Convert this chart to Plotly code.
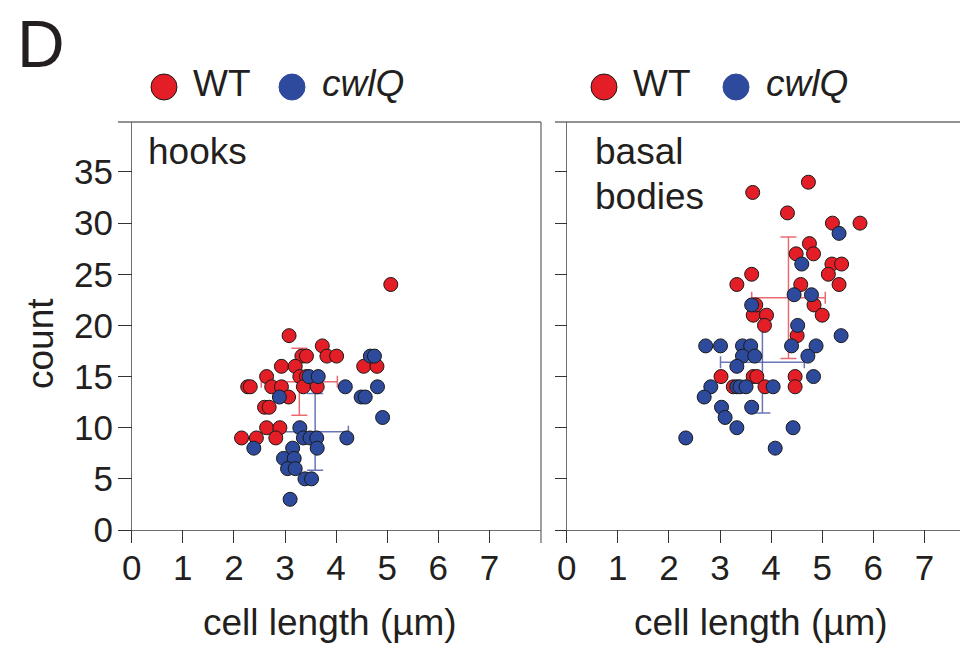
import plotly.graph_objects as go

# ---------------- data ----------------
hooks_wt_x = [5.07, 3.08, 3.73, 3.33, 3.42, 3.82, 4.01, 2.93, 3.20, 4.54, 4.80, 2.64, 3.29, 3.42,
              2.27, 2.32, 2.74, 2.93, 3.36, 3.63, 3.07, 2.60, 2.69, 2.64, 2.90, 2.15, 2.44, 2.82]
hooks_wt_y = [24, 19, 18, 17, 17, 17, 17, 16, 16, 16, 16, 15, 15, 15,
              14, 14, 14, 14, 14, 14, 13, 12, 12, 10, 10, 9, 9, 9]
hooks_cwlq_x = [4.67, 4.75, 3.47, 3.65, 4.18, 4.81, 2.89, 4.49, 4.57, 4.91, 3.29, 3.36, 3.49,
                3.62, 4.21, 2.39, 3.15, 3.63, 2.97, 3.18, 3.05, 3.20, 3.39, 3.52, 3.10]
hooks_cwlq_y = [17, 17, 15, 15, 14, 14, 13, 13, 13, 11, 10, 9, 9,
                9, 9, 8, 8, 8, 7, 7, 6, 6, 5, 5, 3]

bb_wt_x = [4.73, 3.64, 4.32, 5.20, 5.74, 4.75, 4.49, 4.83, 5.19, 5.38, 5.12, 3.62, 3.33, 5.33,
           4.58, 4.84, 5.00, 3.65, 3.91, 3.87, 3.70, 4.51, 4.47, 4.47, 3.02, 3.65, 3.72, 3.26, 3.88]
bb_wt_y = [34, 33, 31, 30, 30, 28, 27, 27, 26, 26, 25, 25, 24, 24,
           24, 22, 21, 21, 21, 20, 22, 19, 15, 14, 15, 15, 15, 14, 14]
bb_cwlq_x = [5.33, 4.60, 4.45, 4.79, 3.62, 4.52, 5.37, 2.72, 3.01, 3.44, 3.60, 4.40, 4.88, 3.44,
             3.68, 4.72, 3.33, 4.83, 2.82, 3.33, 3.39, 3.51, 4.04, 2.69, 3.03, 3.62, 3.10, 3.33,
             4.43, 2.33, 4.08]
bb_cwlq_y = [29, 26, 23, 23, 22, 20, 19, 18, 18, 18, 18, 18, 18, 17,
             17, 17, 16, 15, 14, 14, 14, 14, 14, 13, 12, 12, 11, 10,
             10, 9, 8]

# mean +/- SD summaries (hooks, basal bodies)
wt_mean_x = [3.28, 4.34]
wt_mean_y = [14.5, 22.7]
wt_sd_x = [0.745, 0.72]
wt_sd_y = [3.27, 5.94]
cwlq_mean_x = [3.59, 3.83]
cwlq_mean_y = [9.6, 16.4]
cwlq_sd_x = [0.65, 0.82]
cwlq_sd_y = [3.75, 4.95]

x_ticks = [0, 1, 2, 3, 4, 5, 6, 7]
y_ticks = [0, 5, 10, 15, 20, 25, 30, 35]

# ---------------- style ----------------
W, H = 968, 649
OX, OY = 8, 8   # page body margin offset
RED = "#E31E26"
BLUE = "#2E4A9C"
RED_ERR = "rgba(230,80,90,0.85)"
BLUE_ERR = "rgba(80,95,170,0.85)"
FONT = "Liberation Sans, Arial, sans-serif"
TXT = "#231F20"
AX = "#6E6E6E"
FS = 37


def px(x):
    return (x - OX) / W


def py(y):
    return 1 - (y - OY) / H


fig = go.Figure()

panels = [("x", "y", hooks_wt_x, hooks_wt_y, hooks_cwlq_x, hooks_cwlq_y, 0),
          ("x2", "y2", bb_wt_x, bb_wt_y, bb_cwlq_x, bb_cwlq_y, 1)]

for xa, ya, wx, wy, cx, cy, i in panels:
    # error bars (mean +/- SD)
    fig.add_trace(go.Scatter(
        x=[wt_mean_x[i]], y=[wt_mean_y[i]], mode="markers", xaxis=xa, yaxis=ya,
        marker=dict(size=1, color="rgba(0,0,0,0)"), showlegend=False, hoverinfo="skip",
        error_x=dict(type="data", array=[wt_sd_x[i]], color=RED_ERR, thickness=1.5, width=6),
        error_y=dict(type="data", array=[wt_sd_y[i]], color=RED_ERR, thickness=1.5, width=8)))
    fig.add_trace(go.Scatter(
        x=[cwlq_mean_x[i]], y=[cwlq_mean_y[i]], mode="markers", xaxis=xa, yaxis=ya,
        marker=dict(size=1, color="rgba(0,0,0,0)"), showlegend=False, hoverinfo="skip",
        error_x=dict(type="data", array=[cwlq_sd_x[i]], color=BLUE_ERR, thickness=1.5, width=6),
        error_y=dict(type="data", array=[cwlq_sd_y[i]], color=BLUE_ERR, thickness=1.5, width=8)))
    fig.add_trace(go.Scatter(
        x=wx, y=wy, mode="markers", xaxis=xa, yaxis=ya, name="WT", showlegend=False,
        marker=dict(size=14, color=RED, line=dict(color="#1a1a1a", width=1))))
    fig.add_trace(go.Scatter(
        x=cx, y=cy, mode="markers", xaxis=xa, yaxis=ya, name="cwlQ", showlegend=False,
        marker=dict(size=14, color=BLUE, line=dict(color="#1a1a1a", width=1))))

# axis geometry (reference pixel positions)
x0_px_left = 131.7
x0_px_right = 566.7
ppu_x = 51.1
y0_px = 530.0
ppu_y = 10.229
top_px, bot_px = 122.0, 543.0
right_edge = W + OX  # figure's right edge in page pixels

yrange = [(y0_px - bot_px) / ppu_y, (y0_px - top_px) / ppu_y]
ydom = [py(bot_px), py(top_px)]

common_x = dict(tickvals=x_ticks, ticks="inside", ticklen=13, tickwidth=1.3, tickcolor="#333",
                showgrid=False, showline=False, zeroline=True, zerolinecolor=AX,
                zerolinewidth=1.3, tickfont=dict(family=FONT, size=35, color=TXT),
                fixedrange=True, automargin=False, ticklabelstandoff=1)
common_y = dict(tickvals=y_ticks, ticks="inside", ticklen=14, tickwidth=1.3, tickcolor="#333",
                showgrid=False, showline=False, zeroline=True, zerolinecolor=AX,
                zerolinewidth=1.3, tickfont=dict(family=FONT, size=35, color=TXT),
                range=yrange, domain=ydom, fixedrange=True, automargin=False,
                ticklabelstandoff=4)

fig.update_layout(
    width=W, height=H, margin=dict(l=0, r=0, t=0, b=0, autoexpand=False),
    paper_bgcolor="white", plot_bgcolor="white", showlegend=False,
    xaxis=dict(common_x, domain=[px(118), px(541)],
               range=[(118 - x0_px_left) / ppu_x, (541 - x0_px_left) / ppu_x], anchor="y"),
    yaxis=dict(common_y, anchor="x"),
    xaxis2=dict(common_x, domain=[px(555), 1.0],
                range=[(555 - x0_px_right) / ppu_x, (right_edge - x0_px_right) / ppu_x],
                anchor="y2"),
    yaxis2=dict(common_y, anchor="x2", showticklabels=False, ticklen=12),
)

shapes = []
for xr, yr in [("x domain", "y domain"), ("x2 domain", "y2 domain")]:
    shapes.append(dict(type="line", xref=xr, yref=yr, x0=0, x1=1, y0=1, y1=1,
                       line=dict(color=AX, width=1.3)))
shapes.append(dict(type="line", xref="x domain", yref="y domain", x0=1, x1=1, y0=0, y1=1,
                   line=dict(color=AX, width=1.3)))

# legend symbols
for cxp, col, outline in [(164, RED, "#1a1a1a"), (292, BLUE, BLUE), (604, RED, "#1a1a1a"), (736, BLUE, BLUE)]:
    r = 13
    shapes.append(dict(type="circle", xref="paper", yref="paper",
                       x0=px(cxp - r), x1=px(cxp + r), y0=py(87 + r), y1=py(87 - r),
                       fillcolor=col, line=dict(color=outline, width=1)))
fig.update_layout(shapes=shapes)


def text_at(text, x_left, baseline, size, xanchor="left"):
    top = baseline - 0.905 * size - 2
    fig.add_annotation(text=text, x=px(x_left), y=py(top), xref="paper", yref="paper",
                       xanchor=xanchor, yanchor="top", showarrow=False,
                       font=dict(family=FONT, size=size, color=TXT), borderpad=0)


text_at("D", 16, 68, 66)
text_at("WT", 192, 97, FS)
text_at("<i>cwlQ</i>", 321, 97, FS)
text_at("WT", 632, 97, FS)
text_at("<i>cwlQ</i>", 765, 97, FS)
text_at("hooks", 147, 165, FS)
text_at("basal", 594, 165, FS)
text_at("bodies", 594, 210, FS)
text_at("cell length (µm)", 330, 636, FS, xanchor="center")
text_at("cell length (µm)", 761, 636, FS, xanchor="center")

fig.add_annotation(text="count", x=px(40), y=py(344), xref="paper", yref="paper",
                   xanchor="center", yanchor="middle", textangle=-90, showarrow=False,
                   font=dict(family=FONT, size=FS, color=TXT))

fig.write_html("out.html")
